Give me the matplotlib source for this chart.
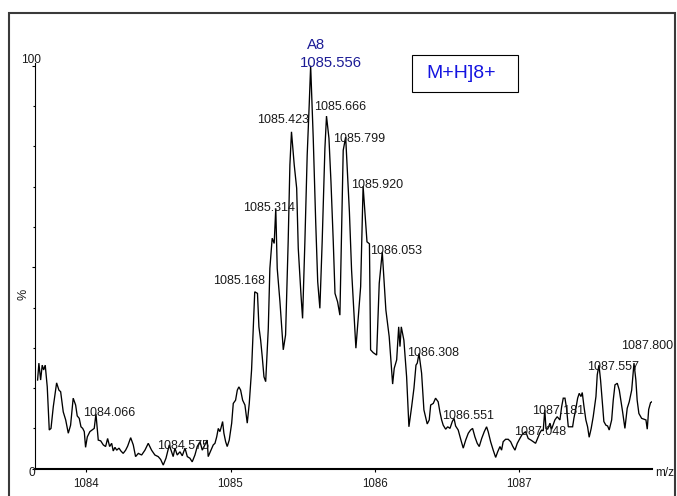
import matplotlib
matplotlib.use("Agg")
import matplotlib.pyplot as plt
from matplotlib.patches import Rectangle

# ---- spectrum data (m/z, relative intensity %) ----
mz = [
    1083.661, 1083.670, 1083.682, 1083.693, 1083.703, 1083.714, 1083.728, 1083.742, 1083.754, 1083.770,
    1083.793, 1083.809, 1083.821, 1083.839, 1083.856, 1083.874, 1083.890, 1083.908, 1083.925, 1083.936,
    1083.950, 1083.962, 1083.974, 1083.985, 1083.994, 1084.006, 1084.024, 1084.054, 1084.066, 1084.082,
    1084.099, 1084.117, 1084.133, 1084.147, 1084.161, 1084.175, 1084.186, 1084.198, 1084.210, 1084.226,
    1084.239, 1084.255, 1084.272, 1084.286, 1084.307, 1084.325, 1084.341, 1084.360, 1084.383, 1084.406,
    1084.429, 1084.452, 1084.475, 1084.498, 1084.515, 1084.533, 1084.552, 1084.575, 1084.602, 1084.614,
    1084.630, 1084.649, 1084.665, 1084.684, 1084.700, 1084.718, 1084.734, 1084.753, 1084.769, 1084.788,
    1084.804, 1084.822, 1084.838, 1084.845, 1084.864, 1084.880, 1084.892, 1084.904, 1084.915, 1084.926,
    1084.933, 1084.945, 1084.954, 1084.966, 1084.977, 1084.991, 1085.008, 1085.019, 1085.035, 1085.047,
    1085.058, 1085.070, 1085.084, 1085.100, 1085.116, 1085.130, 1085.146, 1085.168, 1085.187, 1085.197,
    1085.209, 1085.220, 1085.232, 1085.244, 1085.262, 1085.273, 1085.289, 1085.303, 1085.314, 1085.324,
    1085.343, 1085.366, 1085.382, 1085.400, 1085.412, 1085.423, 1085.442, 1085.459, 1085.470, 1085.489,
    1085.500, 1085.516, 1085.532, 1085.546, 1085.556, 1085.574, 1085.591, 1085.605, 1085.620, 1085.636,
    1085.655, 1085.666, 1085.683, 1085.697, 1085.713, 1085.725, 1085.743, 1085.759, 1085.771, 1085.782,
    1085.799, 1085.825, 1085.840, 1085.870, 1085.903, 1085.920, 1085.947, 1085.964, 1085.972, 1085.990,
    1086.014, 1086.032, 1086.053, 1086.078, 1086.101, 1086.125, 1086.136, 1086.153, 1086.167, 1086.176,
    1086.185, 1086.203, 1086.222, 1086.238, 1086.257, 1086.273, 1086.287, 1086.296, 1086.308, 1086.326,
    1086.342, 1086.365, 1086.379, 1086.389, 1086.407, 1086.423, 1086.441, 1086.453, 1086.465, 1086.476,
    1086.493, 1086.507, 1086.523, 1086.539, 1086.551, 1086.562, 1086.580, 1086.599, 1086.615, 1086.632,
    1086.650, 1086.666, 1086.680, 1086.696, 1086.712, 1086.726, 1086.743, 1086.761, 1086.777, 1086.788,
    1086.805, 1086.823, 1086.840, 1086.854, 1086.870, 1086.881, 1086.892, 1086.909, 1086.927, 1086.944,
    1086.958, 1086.974, 1086.990, 1087.008, 1087.024, 1087.048, 1087.066, 1087.085, 1087.101, 1087.117,
    1087.131, 1087.147, 1087.159, 1087.170, 1087.181, 1087.189, 1087.201, 1087.217, 1087.228, 1087.251,
    1087.267, 1087.286, 1087.298, 1087.309, 1087.321, 1087.332, 1087.344, 1087.374, 1087.383, 1087.397,
    1087.409, 1087.420, 1087.432, 1087.441, 1087.453, 1087.466, 1087.478, 1087.489, 1087.503, 1087.517,
    1087.536, 1087.545, 1087.557, 1087.568, 1087.580, 1087.591, 1087.605, 1087.617, 1087.628, 1087.645,
    1087.656, 1087.668, 1087.684, 1087.698, 1087.709, 1087.721, 1087.737, 1087.753, 1087.767, 1087.784,
    1087.800, 1087.813, 1087.822, 1087.834, 1087.853, 1087.869, 1087.883, 1087.892, 1087.902, 1087.915,
    1087.924,
]

intensity = [
    22.0, 26.2, 22.0, 25.7, 24.5, 25.7, 20.3, 9.6, 10.0, 15.4,
    21.3, 19.5, 19.1, 14.1, 12.1, 8.8, 10.8, 17.5, 15.8, 13.1,
    12.5, 10.4, 10.0, 9.2, 5.3, 7.9, 9.2, 10.0, 13.6, 7.1,
    6.9, 5.9, 5.5, 7.5, 5.5, 6.3, 4.4, 5.3, 4.6, 5.1,
    4.4, 3.8, 4.6, 5.6, 7.7, 5.9, 3.0, 3.8, 3.4, 4.6,
    6.3, 4.6, 3.4, 3.0, 2.3, 0.9, 2.6, 5.9, 3.0, 5.1,
    3.4, 4.2, 3.2, 5.1, 3.0, 2.6, 1.7, 3.4, 5.5, 6.7,
    4.6, 5.9, 7.1, 3.0, 4.6, 5.9, 6.3, 7.9, 10.0, 9.2,
    10.0, 11.7, 8.8, 6.7, 5.5, 7.1, 11.3, 16.2, 17.0, 19.5,
    20.3, 19.5, 17.0, 15.8, 11.3, 16.2, 24.5, 43.9, 43.5, 35.2,
    31.9, 27.8, 22.8, 21.6, 34.8, 49.7, 57.2, 55.9, 64.6, 49.7,
    41.4, 29.5, 33.2, 56.3, 75.4, 83.6, 75.4, 69.6, 54.7, 43.1,
    37.3, 56.3, 77.8, 90.3, 100.0, 82.0, 61.3, 46.4, 39.8, 56.3,
    79.5, 87.5, 82.0, 71.2, 56.3, 43.5, 41.4, 38.1, 59.7, 79.0,
    82.3, 63.7, 49.3, 29.9, 45.2, 70.1, 56.3, 55.8, 29.5, 28.8,
    28.2, 46.0, 53.8, 39.4, 32.8, 21.0, 24.9, 27.0, 35.2, 30.3,
    35.2, 31.9, 22.8, 10.4, 15.4, 20.0, 25.7, 26.2, 28.6, 23.7,
    14.6, 11.1, 12.1, 15.8, 16.2, 17.5, 16.6, 14.1, 12.1, 10.8,
    9.8, 10.4, 10.0, 11.7, 12.5, 10.6, 9.6, 7.1, 5.1, 7.1,
    8.8, 9.6, 10.0, 7.9, 6.3, 5.5, 7.5, 9.2, 10.4, 9.2,
    6.7, 4.6, 2.8, 4.2, 5.5, 4.6, 6.7, 7.3, 7.3, 6.7,
    5.6, 4.6, 6.3, 7.5, 8.5, 9.2, 7.5, 7.1, 6.7, 6.3,
    7.5, 8.9, 9.6, 9.4, 14.6, 10.0, 9.8, 11.3, 9.8, 12.1,
    12.9, 12.1, 15.4, 17.5, 17.5, 15.0, 10.4, 10.4, 12.5, 15.0,
    17.5, 18.7, 17.9, 18.9, 15.4, 12.1, 10.4, 7.8, 10.0, 12.9,
    17.9, 23.3, 25.7, 22.0, 16.6, 11.7, 10.8, 10.6, 9.6, 12.1,
    17.0, 20.8, 21.2, 19.5, 17.0, 14.1, 10.0, 15.0, 16.6, 19.5,
    26.2, 22.0, 17.0, 13.7, 12.5, 12.3, 12.1, 9.8, 14.7, 16.4,
    16.6,
]

# labelled peak centroids
peak_mz = [1084.066, 1084.575, 1085.168, 1085.314, 1085.423, 1085.556, 1085.666,
           1085.799, 1085.920, 1086.053, 1086.308, 1086.551, 1087.048, 1087.181,
           1087.557, 1087.800]
base_peak = 1085.556
base_tag = "A8"
charge_note = "M+H]8+"
x_ticks = [1084, 1085, 1086, 1087]

# label placement (pixels from the peak apex: right, up)
label_offsets = [(-13, -2.5), (-12.7, -4.5), (-42, 8.2), (-32.5, -2.9), (-34.2, 8.7),
                 (-10.7, -1.6), (-12.2, 5.8), (-12.4, -4.5), (-12, -1.5), (-12, -2.5),
                 (-12.2, -2.9), (-11.6, -0.5), (-11.8, -3.3), (-12.7, -3.7), (-11.6, -4.5),
                 (-12.9, 13.7)]

W, H, DPI = 677, 496, 100
plt.rcParams['font.family'] = ['Liberation Sans', 'DejaVu Sans']
fig = plt.figure(figsize=(W / DPI, H / DPI), dpi=DPI)


def fx(px):
    return px / W


def fy(py):
    return 1 - py / H


ax_left, ax_right, ax_bottom, ax_top = 35, 652, 468.7, 63
ax = fig.add_axes([fx(ax_left), fy(ax_bottom), fx(ax_right) - fx(ax_left),
                   fy(ax_top) - fy(ax_bottom)])
ax.set_xlim(1083.643, 1087.925)
ax.set_ylim(0, 100 * (ax_bottom - ax_top) / 403.0)
ax.patch.set_visible(False)

ax.plot(mz, intensity, color='black', lw=0.95, solid_joinstyle='miter')

for s in ('top', 'right'):
    ax.spines[s].set_visible(False)
ax.spines['left'].set_linewidth(0.8)
ax.spines['bottom'].set_linewidth(1.5)

ax.set_xticks(x_ticks)
ax.set_xticklabels([str(t) for t in x_ticks], fontsize=8.3, color='#1a1a1a')
ax.tick_params(axis='x', direction='out', length=2.5, width=0.8, pad=4.3)
ax.set_yticks([0, 50, 100])
ax.set_yticks(range(10, 100, 10), minor=True)
ax.tick_params(axis='y', which='major', direction='out', length=2.2, width=0.8, labelleft=False)
ax.tick_params(axis='y', which='minor', direction='out', length=1.2, width=0.8)

# peak annotations
for p, (dx, dy) in zip(peak_mz, label_offsets):
    yv = intensity[mz.index(p)]
    if p == base_peak:
        ax.annotate(f"{p:.3f}", xy=(p, yv), xytext=(dx, dy), textcoords='offset pixels',
                    ha='left', va='baseline', fontsize=10.7, color='#1c1c96')
        ax.annotate(base_tag, xy=(p, yv), xytext=(-3.7, 17), textcoords='offset pixels',
                    ha='left', va='baseline', fontsize=10.7, color='#1c1c96')
    else:
        ax.annotate(f"{p:.3f}", xy=(p, yv), xytext=(dx, dy), textcoords='offset pixels',
                    ha='left', va='baseline', fontsize=9, color='#1a1a1a')

# axis captions
fig.text(fx(31), fy(60), "100", ha='center', va='center', fontsize=8.6, color='#1a1a1a')
fig.text(fx(31.5), fy(472.5), "0", ha='center', va='center', fontsize=8.6, color='#1a1a1a')
fig.text(fx(23.5), fy(294), "%", ha='center', va='center', fontsize=9, rotation=90,
         color='#1a1a1a')
fig.text(fx(655), fy(473), "m/z", ha='left', va='center', fontsize=8.5, color='#1a1a1a')

# charge-state box
fig.patches.append(Rectangle((fx(412), fy(92)), fx(518) - fx(412), fy(55) - fy(92),
                             transform=fig.transFigure, fill=False, ec='black', lw=0.8))
fig.text(fx(461), fy(74), charge_note, ha='center', va='center', fontsize=14,
         color='#1414e0')

# outer frame
fig.patches.append(Rectangle((fx(9), -0.05), fx(675) - fx(9), fy(13) + 0.05,
                             transform=fig.transFigure, fill=False, ec='#3a3a3a', lw=1.5))

fig.savefig("out.png", dpi=DPI)
